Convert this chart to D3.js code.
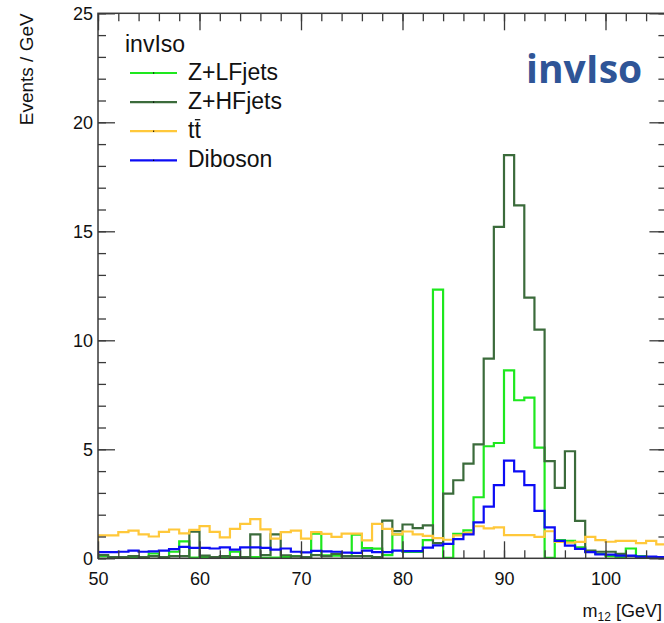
<!DOCTYPE html>
<html><head><meta charset="utf-8">
<script src="https://cdn.jsdelivr.net/npm/d3@7"></script>
<style>body{margin:0;background:#fff;} svg{display:block;}</style>
</head><body><svg id="c" width="664" height="623"></svg>
<script>
// ---- data ----
const binLow = [50,51,52,53,54,55,56,57,58,59,60,61,62,63,64,65,66,67,68,69,70,71,72,73,74,75,76,77,78,79,80,81,82,83,84,85,86,87,88,89,90,91,92,93,94,95,96,97,98,99,100,101,102,103,104,105];
const binWidth = 1;
const zLF = [0.10,0.05,0.02,0.05,0.02,0.22,0.05,0.30,0.78,0.03,
             0.05,0.02,0.05,0.30,0.03,0.06,0.02,0.03,0.05,0.10,
             0.05,1.13,0.14,0.12,0.10,1.08,0.47,0.44,0.15,1.10,
             0.29,0.29,0.83,12.32,0.02,1.12,1.28,2.80,5.14,5.29,
             8.62,7.25,7.37,5.08,0.02,0.83,0.80,0.50,0.30,0.20,
             0.10,0.05,0.45,0.10,0.05,0.05];
const zHF = [0.15,0.05,0.05,0.10,0.05,0.10,0.05,0.10,0.10,1.22,
             0.12,0.05,0.10,0.05,0.05,1.10,0.15,1.10,0.14,0.09,
             0.05,0.15,0.10,0.20,0.10,0.10,0.10,0.05,1.73,1.25,
             1.55,1.38,1.51,0.70,2.97,3.58,4.34,5.23,9.16,15.20,
             18.49,16.19,11.96,10.49,4.46,3.23,4.91,1.72,0.35,0.30,
             0.30,0.20,0.10,0.05,0.05,0.05];
const ttbar = [1.05,1.05,1.20,1.27,1.10,1.00,1.21,1.32,1.14,1.30,
               1.48,1.21,0.96,1.35,1.58,1.80,1.33,0.90,1.20,1.27,
               0.90,1.20,1.12,0.98,1.13,1.13,0.82,1.58,1.35,1.10,
               1.23,1.10,1.03,0.93,0.85,1.05,1.17,1.47,1.37,1.42,
               1.06,1.06,1.06,0.98,1.24,0.75,0.72,0.75,0.98,0.83,
               0.76,0.80,0.80,0.70,0.80,0.64];
const diboson = [0.28,0.28,0.30,0.35,0.30,0.32,0.35,0.42,0.52,0.48,
                 0.48,0.45,0.50,0.40,0.50,0.50,0.48,0.40,0.45,0.30,
                 0.27,0.34,0.32,0.30,0.26,0.25,0.35,0.28,0.28,0.35,
                 0.33,0.33,0.49,0.59,0.66,0.88,1.10,1.65,2.37,3.36,
                 4.48,3.99,3.36,2.18,1.42,0.80,0.58,0.43,0.28,0.18,
                 0.17,0.12,0.12,0.08,0.08,0.06];
const seriesNames = ["Z+LFjets","Z+HFjets","tt","Diboson"];
const seriesColors = ["#1ee81e","#3b6b3b","#ffc83a","#0c0cf5"];
const xTickValues = [50,60,70,80,90,100];
const yTickValues = [0,5,10,15,20,25];
const legendHeader = "invIso";
const tagText = "invIso";

// ---- layout ----
const svg = d3.select("#c");
const L = 98, R = 666.4, T = 13.3, B = 558.3;
const x = d3.scaleLinear().domain([50,106]).range([L,R]);
const y = d3.scaleLinear().domain([0,25]).range([B,T]);
const frameColor = "#3a3a3a";
const font = "'Liberation Sans', Arial, Helvetica, sans-serif";

svg.append("defs").append("clipPath").attr("id","pc")
  .append("rect").attr("x",L).attr("y",T-2).attr("width",R-L).attr("height",B-T+2);

// histograms
const seriesData = [zLF, zHF, ttbar, diboson];
const line = d3.line().x(d=>x(d[0])).y(d=>y(d[1])).curve(d3.curveStepAfter);
seriesData.forEach((vals,si)=>{
  const pts = [[binLow[0],0]];
  vals.forEach((v,i)=>pts.push([binLow[i],v]));
  const last = binLow[binLow.length-1]+binWidth;
  pts.push([last, vals[vals.length-1]]);
  pts.push([last, 0]);
  svg.append("path").attr("d",line(pts)).attr("fill","none")
    .attr("stroke",seriesColors[si]).attr("stroke-width",2.2)
    .attr("clip-path","url(#pc)");
});

// axes
function styleAxis(g){
  g.select(".domain").remove();
  g.selectAll(".tick line").attr("stroke",frameColor).attr("stroke-width",1.3);
  g.selectAll("text").attr("font-family",font).attr("font-size",18).attr("fill","#111");
}
const xMinor = d3.range(50,107,2);
const yMinor = d3.range(0,26,1);
svg.append("g").attr("transform",`translate(0,${B})`)
  .call(d3.axisBottom(x).tickValues(xMinor).tickSize(-8).tickFormat(""))
  .call(styleAxis);
svg.append("g").attr("transform",`translate(0,${B})`)
  .call(d3.axisBottom(x).tickValues(xTickValues).tickSize(-17).tickPadding(14).tickFormat(d3.format("d")))
  .call(styleAxis);
svg.append("g").attr("transform",`translate(0,${T})`)
  .call(d3.axisTop(x).tickValues(xMinor).tickSize(-8).tickFormat(""))
  .call(styleAxis);
svg.append("g").attr("transform",`translate(0,${T})`)
  .call(d3.axisTop(x).tickValues(xTickValues).tickSize(-17).tickFormat(""))
  .call(styleAxis);
svg.append("g").attr("transform",`translate(${L},0)`)
  .call(d3.axisLeft(y).tickValues(yMinor).tickSize(-8).tickFormat(""))
  .call(styleAxis);
svg.append("g").attr("transform",`translate(${L},0)`)
  .call(d3.axisLeft(y).tickValues(yTickValues).tickSize(-17).tickPadding(5).tickFormat(d3.format("d")))
  .call(styleAxis);
svg.append("g").attr("transform",`translate(${R},0)`)
  .call(d3.axisRight(y).tickValues(yMinor).tickSize(-8).tickFormat(""))
  .call(styleAxis);
svg.append("g").attr("transform",`translate(${R},0)`)
  .call(d3.axisRight(y).tickValues(yTickValues).tickSize(-17).tickFormat(""))
  .call(styleAxis);

// frame
svg.append("rect").attr("x",L).attr("y",T).attr("width",R-L).attr("height",B-T)
  .attr("fill","none").attr("stroke",frameColor).attr("stroke-width",1.5);

// axis titles
svg.append("text").attr("transform",`translate(33,${T}) rotate(-90)`)
  .attr("text-anchor","end").attr("font-family",font).attr("font-size",19).attr("fill","#111")
  .text("Events / GeV");
const xt = svg.append("text").attr("x",662).attr("y",617).attr("text-anchor","end")
  .attr("font-family",font).attr("font-size",18).attr("fill","#111");
xt.append("tspan").text("m");
xt.append("tspan").attr("font-size",12).attr("dy",4).text("12");
xt.append("tspan").attr("dy",-4).text(" [GeV]");

// legend
const lg = svg.append("g").attr("font-family",font).attr("fill","#111");
lg.append("text").attr("x",125).attr("y",51.5).attr("font-size",23).text(legendHeader);
seriesNames.forEach((n,i)=>{
  const by = 80 + i*29.1;
  const ly = by - 7;
  lg.append("line").attr("x1",130).attr("x2",177).attr("y1",ly).attr("y2",ly)
    .attr("stroke",seriesColors[i]).attr("stroke-width",2.2);
  lg.append("rect").attr("x",153).attr("y",ly-0.6).attr("width",1.2).attr("height",1.2).attr("fill","#000");
  const t = lg.append("text").attr("x",188).attr("y",by).attr("font-size",23).text(n);
  if (n === "tt") {
    const w1 = t.node().getSubStringLength(0,1);
    const w2 = t.node().getComputedTextLength();
    lg.append("line").attr("x1",188+w1+0.5).attr("x2",188+w2-0.5)
      .attr("y1",by-18.5).attr("y2",by-18.5).attr("stroke","#111").attr("stroke-width",1.3);
  }
});

// tag
svg.append("text").attr("x",526).attr("y",83).attr("font-family","'Open Sans', sans-serif")
  .attr("font-weight",700).attr("font-size",39).attr("fill","#2f5597").text(tagText);
</script>
</body></html>
